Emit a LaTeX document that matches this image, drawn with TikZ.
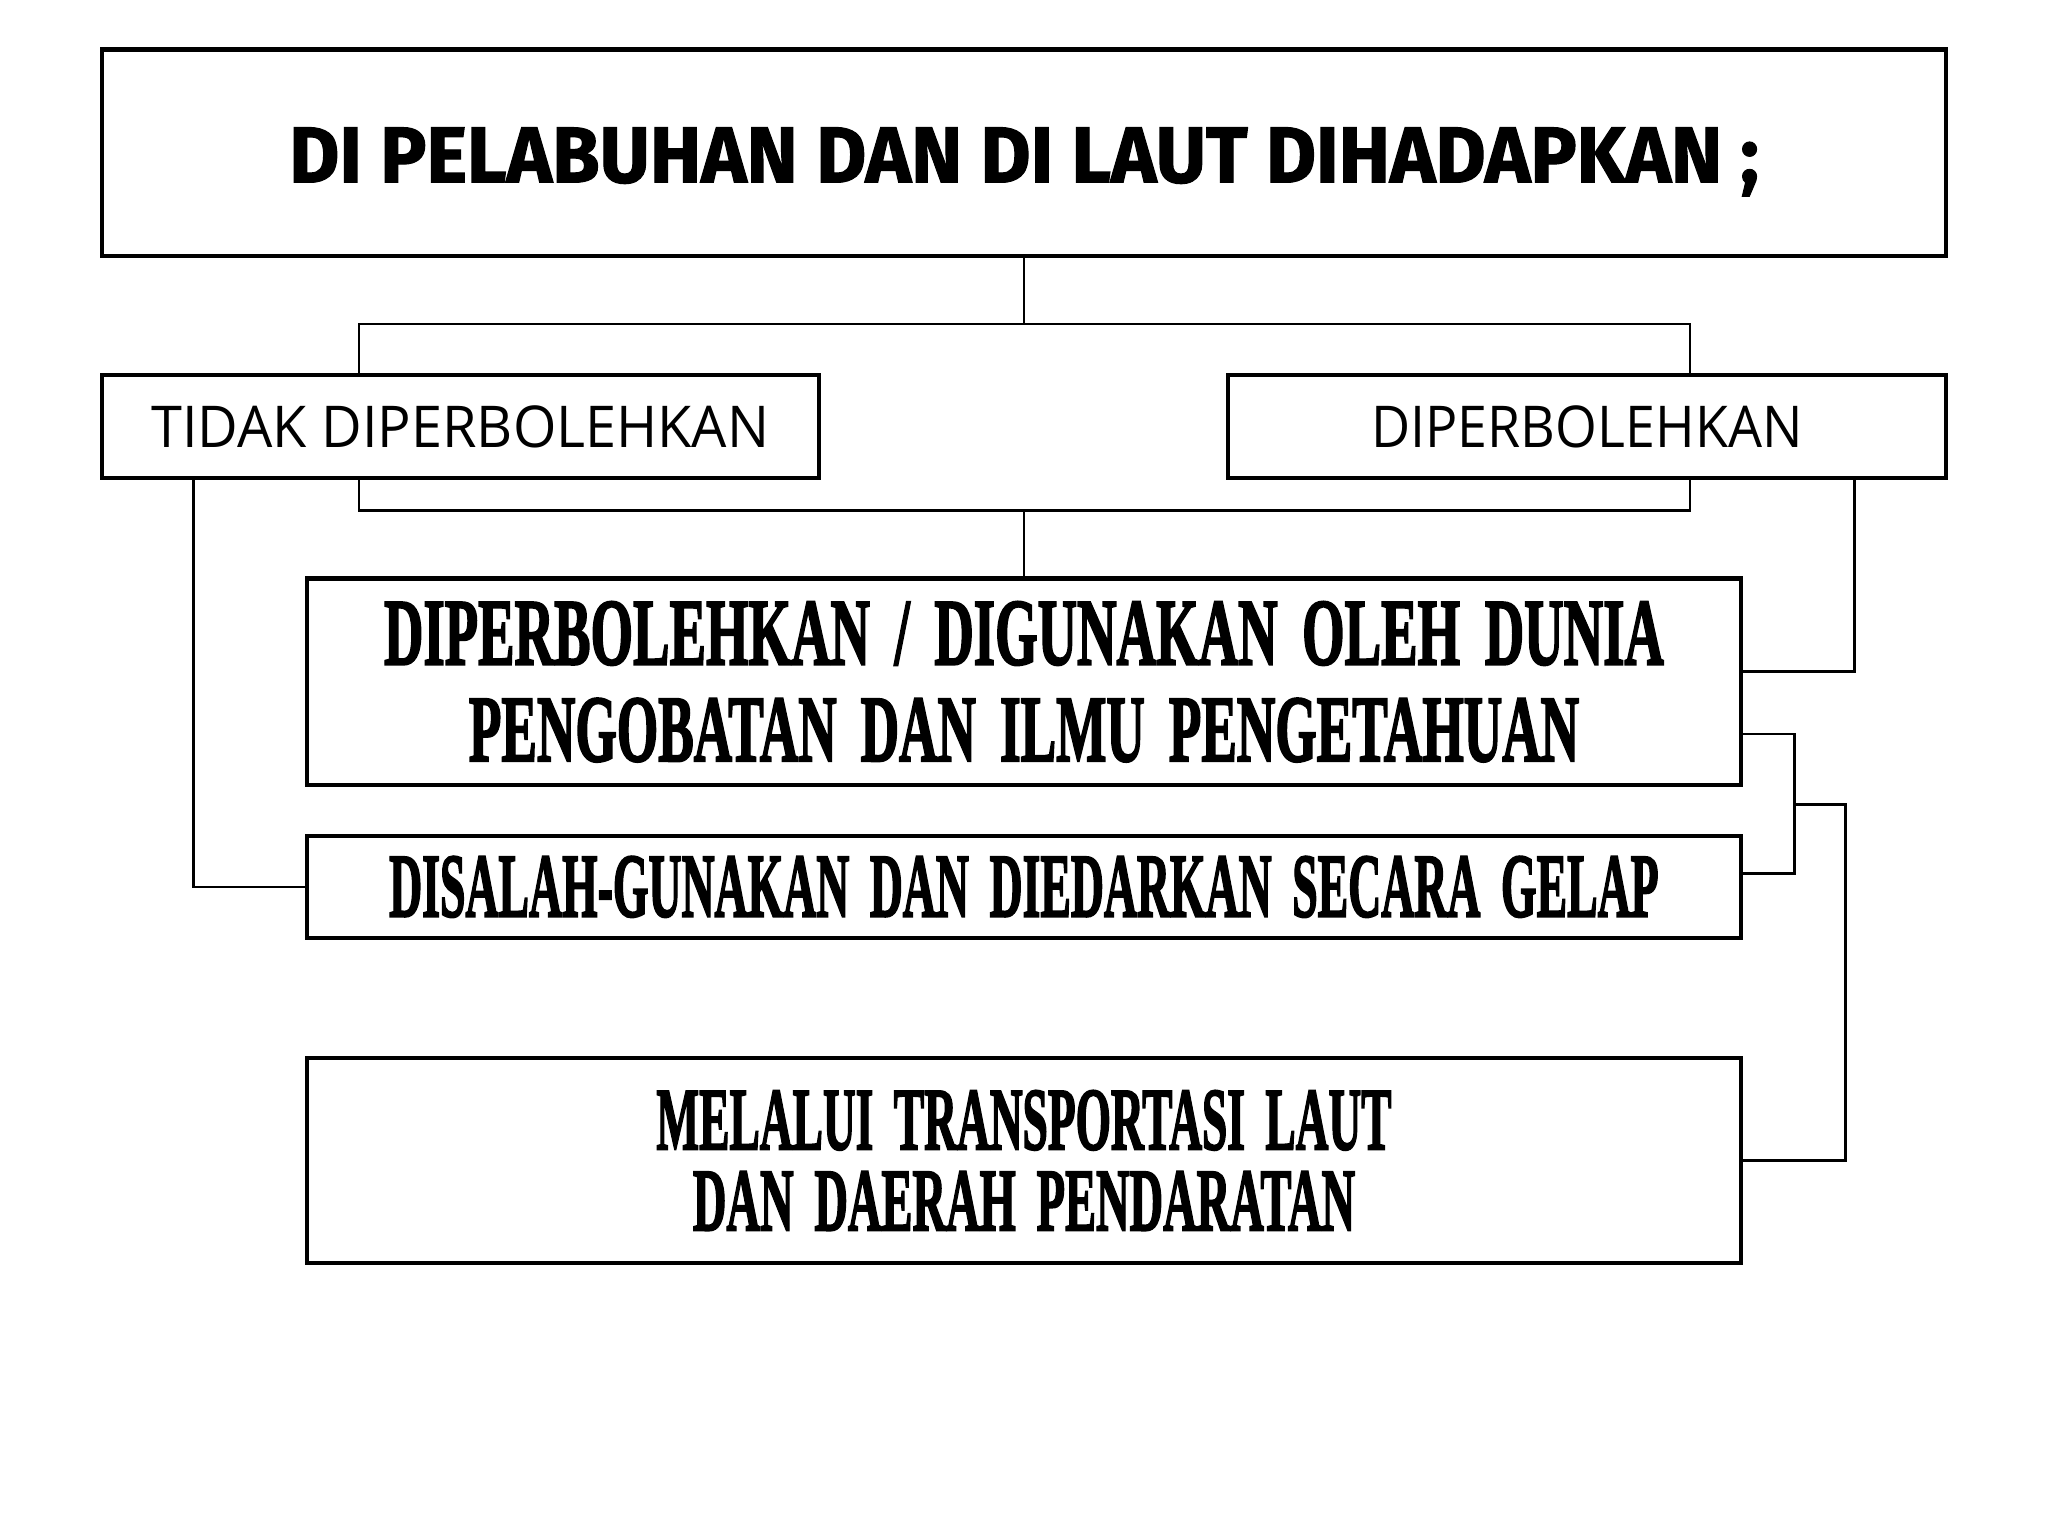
\documentclass[tikz,border=0pt]{standalone}
\usepackage{fontspec}
\usepackage{graphicx}
\newfontfamily\titlefont{Fira Sans}[BoldFeatures={FakeBold=1.5}]
\newfontfamily\handfont{Open Sans}
\newfontfamily\condfont{Liberation Serif}[BoldFeatures={FakeBold=2.5}]
\tikzset{
  box/.style={draw, line width=1.7pt, inner sep=0pt, align=center, fill=white},
  conn/.style={draw, line width=1pt},
}
\newcommand{\titletext}[3]{\raisebox{-3.5pt}[\height][\depth]{\resizebox{#1}{#2}{\titlefont\bfseries #3}}}
\newcommand{\handtext}[3]{\resizebox{#1}{#2}{\handfont #3}}
\newcommand{\condtext}[3]{\resizebox{#1}{#2}{\condfont\bfseries\spaceskip=0.45em\relax #3}}
\begin{document}
\begin{tikzpicture}[x=0.5pt,y=-0.5pt]
\fill[white] (0,0) rectangle (1568,1176);
\useasboundingbox (0,0) rectangle (1568,1176);
% boxes
\node[box, minimum width=706pt, minimum height=79pt] (top) at (784,117)
  {\titletext{562.5pt}{21pt}{DI PELABUHAN DAN DI LAUT DIHADAPKAN ;}};
\node[box, minimum width=274.5pt, minimum height=39.5pt] (tidak) at (352.5,326.5)
  {\handtext{236.5pt}{16pt}{TIDAK DIPERBOLEHKAN}};
\node[box, minimum width=275pt, minimum height=39.5pt] (boleh) at (1215,326.5)
  {\handtext{165pt}{16pt}{DIPERBOLEHKAN}};
\node[box, minimum width=549pt, minimum height=79pt, font={\fontsize{20pt}{37pt}\selectfont}] (b1) at (784,522)
  {\condtext{490pt}{24pt}{DIPERBOLEHKAN / DIGUNAKAN OLEH DUNIA}\\
   \condtext{425pt}{24pt}{PENGOBATAN DAN ILMU PENGETAHUAN}};
\node[box, minimum width=549pt, minimum height=39pt] (b2) at (784,679)
  {\condtext{486pt}{23pt}{DISALAH-GUNAKAN DAN DIEDARKAN SECARA GELAP}};
\node[box, minimum width=549pt, minimum height=78.5pt, font={\fontsize{20pt}{31pt}\selectfont}] (b3) at (784,888.5)
  {\condtext{281.5pt}{22.5pt}{MELALUI TRANSPORTASI LAUT}\\
   \condtext{253.5pt}{22.5pt}{DAN DAERAH PENDARATAN}};
% helper coordinates
\coordinate (xl) at (275,0);
\coordinate (xr) at (1294,0);
\coordinate (xll) at (148,0);
\coordinate (xrr) at (1420,0);
\coordinate (xb) at (1374,0);
\coordinate (xc) at (1413,0);
\coordinate (j1) at (784,248);
\coordinate (j2) at (784,391);
\coordinate (jb) at (1374,616);
% connectors
\draw[conn] (top.south) -- (j1);
\draw[conn] (tidak.north -| xl) |- (j1) -| (boleh.north -| xr);
\draw[conn] (tidak.south -| xl) |- (j2) -| (boleh.south -| xr);
\draw[conn] (j2) -- (b1.north);
\draw[conn] (tidak.south -| xll) |- (b2.west);
\draw[conn] (boleh.south -| xrr) |- ([yshift=4pt]b1.east);
\draw[conn] ([yshift=-20pt]b1.east) -| ([yshift=5pt]b2.east -| xb) -- ([yshift=5pt]b2.east);
\draw[conn] (jb) -| (b3.east -| xc) -- (b3.east);
\end{tikzpicture}
\end{document}
